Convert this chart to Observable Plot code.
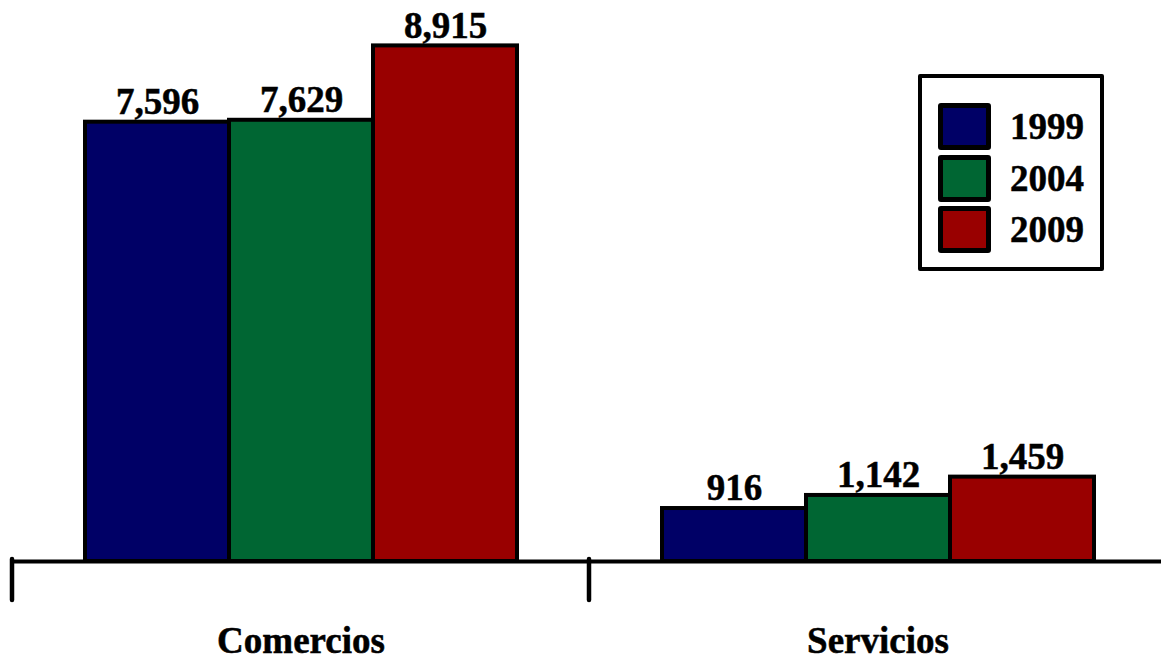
<!DOCTYPE html>
<html>
<head>
<meta charset="utf-8">
<script src="https://cdn.jsdelivr.net/npm/d3@7"></script>
<script src="https://cdn.jsdelivr.net/npm/@observablehq/plot@0.6"></script>
<style>
  html, body { margin: 0; padding: 0; background: #fff; }
  #wrap { position: relative; width: 1161px; height: 662px; overflow: hidden;
          font-family: "Liberation Serif", "Times New Roman", serif; font-weight: bold; }
  #wrap svg { display: block; }
  #wrap svg text { stroke: #000; stroke-width: 0.5px; paint-order: stroke; }
  #legend { position: absolute; left: 918px; top: 74px; width: 186px; height: 197px;
            box-sizing: border-box; border: 4px solid #000; border-radius: 2px; background: #fff; }
  .row { position: absolute; left: 16px; height: 47px; display: flex; align-items: center; }
  .sw { width: 53px; height: 47px; box-sizing: border-box; border: 5px solid #000; border-radius: 3px; }
  .lab { margin-left: 19px; font-size: 37px; line-height: 1; color: #000;
         -webkit-text-stroke: 0.5px #000; }
</style>
</head>
<body>
<div id="wrap"></div>
<script>
// ---- data ----
const categories = ["Comercios", "Servicios"];
const years = ["1999", "2004", "2009"];
const values1999 = [7596, 916];
const values2004 = [7629, 1142];
const values2009 = [8915, 1459];
const colors = ["#000066", "#006633", "#990000"];

const seriesValues = [values1999, values2004, values2009];
const data = [];
categories.forEach((c, i) => {
  years.forEach((y, j) => data.push({category: c, year: y, value: seriesValues[j][i]}));
});

const fmt = d3.format(",");
const FONT = '"Liberation Serif", "Times New Roman", serif';

const plot = Plot.plot({
  width: 1161,
  height: 662,
  marginLeft: 11,
  marginRight: -5,
  marginTop: 0,
  marginBottom: 101,
  style: {fontFamily: FONT, fontWeight: "bold", background: "#fff", overflow: "visible"},
  fx: {domain: categories, padding: 0, label: null},
  x: {domain: years, paddingInner: 0, paddingOuter: 0.5, axis: null},
  y: {domain: [0, 9700], nice: false, axis: null},
  color: {domain: years, range: colors},
  marks: [
    Plot.barY(data, {
      fx: "category", x: "year", y: "value", fill: "year",
      stroke: "#000", strokeWidth: 4, inset: 0, strokeLinejoin: "miter"
    }),
    Plot.ruleY([0], {stroke: "#000", strokeWidth: 4}),
    Plot.text(data, {
      fx: "category", x: "year", y: "value", text: d => fmt(d.value),
      dy: -20, fontSize: 37, fontWeight: "bold", fill: "#000", fontFamily: FONT
    }),
    Plot.axisFx({anchor: "bottom", tickSize: 0, tickPadding: 65, fontSize: 37,
      fontWeight: "bold", fill: "#000", label: null})
  ]
});

// separators between categories, derived from the fx scale
const fx = plot.scale("fx");
const ys = plot.scale("y");
const y0 = ys.apply(0);
const svg = d3.select(plot);
categories.forEach(c => {
  const x = fx.apply(c);
  svg.append("line")
    .attr("x1", x).attr("x2", x)
    .attr("y1", y0 - 2).attr("y2", y0 + 39)
    .attr("stroke", "#000").attr("stroke-width", 4.5)
    .attr("stroke-linecap", "round");
});

const wrap = document.getElementById("wrap");
wrap.appendChild(plot);

// legend (HTML overlay)
const legend = document.createElement("div");
legend.id = "legend";
years.forEach((y, i) => {
  const row = document.createElement("div");
  row.className = "row";
  row.style.top = (25 + i * 51.5) + "px";
  const sw = document.createElement("div");
  sw.className = "sw";
  sw.style.background = colors[i];
  const lab = document.createElement("span");
  lab.className = "lab";
  lab.textContent = y;
  row.appendChild(sw);
  row.appendChild(lab);
  legend.appendChild(row);
});
wrap.appendChild(legend);
</script>
</body>
</html>
